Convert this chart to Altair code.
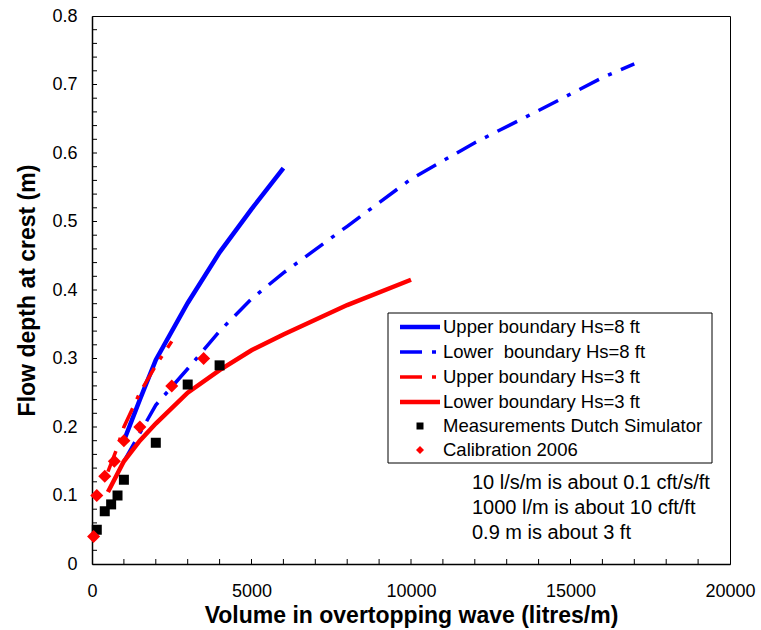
import altair as alt
import pandas as pd

# ---- data ----
up8_x = [1000, 1500, 2000, 3000, 4000, 5000, 6000]
up8_y = [0.18, 0.24, 0.298, 0.381, 0.455, 0.518, 0.578]

lo8_x = [1000, 2000, 3000, 4000, 5000, 6000, 8000, 10000, 12000, 14000, 16000, 17000]
lo8_y = [0.15, 0.232, 0.285, 0.34, 0.387, 0.425, 0.493, 0.562, 0.615, 0.662, 0.71, 0.73]

up3_x = [500, 750, 1000, 1500, 2000, 2500]
up3_y = [0.135, 0.165, 0.2, 0.25, 0.29, 0.325]

lo3_x = [500, 1000, 1500, 2000, 3000, 4000, 5000, 6000, 8000, 10000]
lo3_y = [0.105, 0.15, 0.18, 0.205, 0.25, 0.283, 0.312, 0.335, 0.378, 0.415]

meas_x = [150, 400, 600, 800, 1000, 2000, 3000, 4000]
meas_y = [0.05, 0.077, 0.087, 0.1, 0.123, 0.177, 0.262, 0.29]

cal_x = [50, 150, 400, 700, 1000, 1500, 2500, 3500]
cal_y = [0.04, 0.1, 0.128, 0.15, 0.18, 0.2, 0.26, 0.3]

x_ticks = [0, 5000, 10000, 15000, 20000]
y_ticks = [0, 0.1, 0.2, 0.3, 0.4, 0.5, 0.6, 0.7, 0.8]
x_minor = [i * 1000 for i in range(1, 20)]
y_minor = [round(i * 0.02, 2) for i in range(1, 40)]

legend_labels = [
    "Upper boundary Hs=8 ft",
    "Lower\u00a0 boundary Hs=8 ft",
    "Upper boundary Hs=3 ft",
    "Lower boundary Hs=3 ft",
    "Measurements Dutch Simulator",
    "Calibration 2006",
]
notes = [
    "10 l/s/m is about 0.1 cft/s/ft",
    "1000 l/m is about 10 cft/ft",
    "0.9 m is about 3 ft",
]

FONT = "Liberation Sans"
BLUE = "#0000FF"
RED = "#FF0000"
DASHDOT = [22, 10, 4, 10]
W, H = 638, 548

xscale = alt.Scale(domain=[0, 20000], nice=False)
yscale = alt.Scale(domain=[0, 0.8], nice=False)
xaxis = alt.Axis(values=x_ticks, format="d",
                 title="Volume in overtopping wave (litres/m)",
                 labelPadding=18, titlePadding=4, labelFlush=False, labelOverlap=False)
yaxis = alt.Axis(values=y_ticks,
                 labelExpr="datum.value == 0 ? '0' : format(datum.value, '.1f')",
                 title="Flow depth at crest (m)",
                 labelPadding=15, titlePadding=12, labelFlush=False, labelOverlap=False)


def X():
    return alt.X("x:Q", scale=xscale, axis=xaxis)


def Y():
    return alt.Y("y:Q", scale=yscale, axis=yaxis)


def df(xs, ys):
    return pd.DataFrame({"x": xs, "y": ys})


one = pd.DataFrame({"k": [0]})

# minor ticks (inward)
xt = alt.Chart(pd.DataFrame({"x": x_minor})).mark_rule(color="black", strokeWidth=1).encode(
    x=X(), y=alt.value(H), y2=alt.value(H - 5))
yt = alt.Chart(pd.DataFrame({"y": y_minor})).mark_rule(color="black", strokeWidth=1).encode(
    y=Y(), x=alt.value(0), x2=alt.value(5))

l_up8 = alt.Chart(df(up8_x, up8_y)).mark_line(color=BLUE, strokeWidth=4.5).encode(x=X(), y=Y())
l_lo8 = alt.Chart(df(lo8_x, lo8_y)).mark_line(color=BLUE, strokeWidth=3.5, strokeDash=DASHDOT,
                                              strokeCap="butt").encode(x=X(), y=Y())
l_up3 = alt.Chart(df(up3_x, up3_y)).mark_line(color=RED, strokeWidth=3.5, strokeDash=DASHDOT,
                                              strokeCap="butt").encode(x=X(), y=Y())
l_lo3 = alt.Chart(df(lo3_x, lo3_y)).mark_line(color=RED, strokeWidth=4.5).encode(x=X(), y=Y())

p_meas = alt.Chart(df(meas_x, meas_y)).mark_point(shape="square", filled=True, color="black",
                                                  size=100, opacity=1).encode(x=X(), y=Y())
p_cal = alt.Chart(df(cal_x, cal_y)).mark_point(shape="diamond", filled=True, color=RED,
                                               size=170, opacity=1).encode(x=X(), y=Y())

# ---- manual legend ----
LX0, LX1, LY0, LY1 = 296, 620, 297, 447
rows = [311, 336, 361, 386, 410, 434]
leg_box = alt.Chart(one).mark_rect(fill="white", stroke="black", strokeWidth=1).encode(
    x=alt.value(LX0), x2=alt.value(LX1), y=alt.value(LY0), y2=alt.value(LY1))
leg_items = [leg_box]
styles = [
    dict(color=BLUE, strokeWidth=4.5),
    dict(color=BLUE, strokeWidth=3.5, strokeDash=DASHDOT, strokeCap="butt"),
    dict(color=RED, strokeWidth=3.5, strokeDash=DASHDOT, strokeCap="butt"),
    dict(color=RED, strokeWidth=4.5),
]
for r, st in zip(rows[:4], styles):
    leg_items.append(alt.Chart(one).mark_rule(**st).encode(
        x=alt.value(308), x2=alt.value(348), y=alt.value(r)))
leg_items.append(alt.Chart(one).mark_point(shape="square", filled=True, color="black", size=49,
                                           opacity=1).encode(x=alt.value(328), y=alt.value(rows[4])))
leg_items.append(alt.Chart(one).mark_point(shape="diamond", filled=True, color=RED, size=64,
                                           opacity=1).encode(x=alt.value(328), y=alt.value(rows[5])))
for r, lab in zip(rows, legend_labels):
    leg_items.append(alt.Chart(one).mark_text(align="left", baseline="middle", font=FONT,
                                              fontSize=18.5, color="black").encode(
        x=alt.value(351), y=alt.value(r), text=alt.value(lab)))

note_rows = [467, 492, 517]
note_items = []
for r, lab in zip(note_rows, notes):
    note_items.append(alt.Chart(one).mark_text(align="left", baseline="middle", font=FONT,
                                               fontSize=20, color="black").encode(
        x=alt.value(380), y=alt.value(r), text=alt.value(lab)))

chart = alt.layer(
    l_up8, xt, yt, l_lo8, l_up3, l_lo3, p_meas, p_cal, *leg_items, *note_items
).properties(
    width=W, height=H,
    padding={"left": 92, "top": 16, "right": 31, "bottom": 66},
    autosize=alt.AutoSizeParams(type="none"),
    background="white",
).configure_view(
    stroke="black", strokeWidth=1
).configure_axis(
    grid=False, domainColor="black", domainWidth=1.5, tickSize=0,
    labelFont=FONT, labelFontSize=18, labelColor="black",
    titleFont=FONT, titleFontSize=23, titleFontWeight="bold", titleColor="black",
)

chart.save("out.html", embed_options={"renderer": "svg", "actions": False})
